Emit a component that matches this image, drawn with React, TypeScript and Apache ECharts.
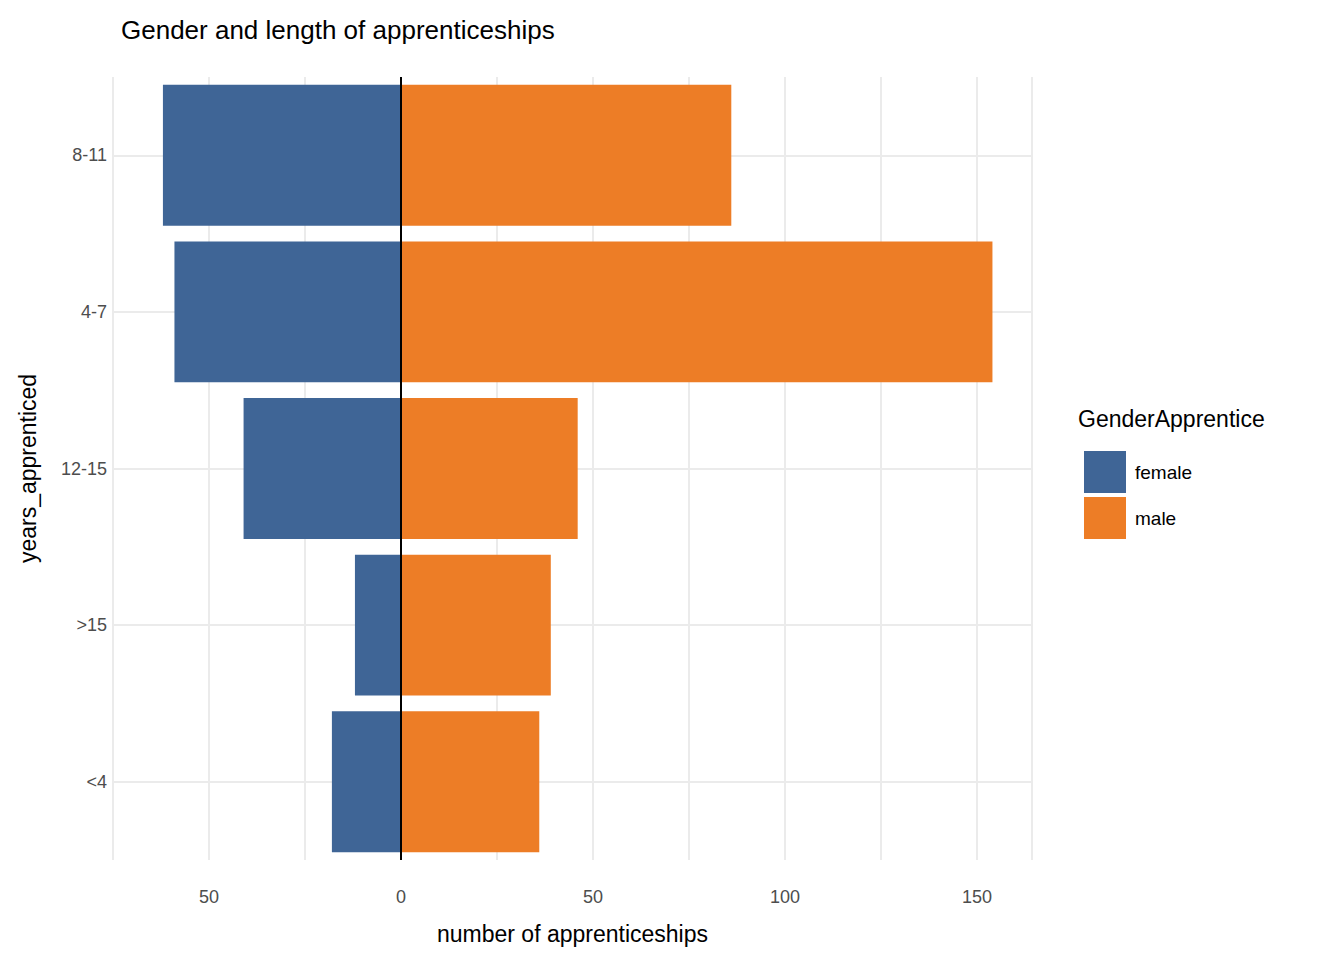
import { useEffect, useRef } from 'react';
import * as echarts from 'echarts';

const categories = ['<4', '>15', '12-15', '4-7', '8-11'];
const female = [18, 12, 41, 59, 62];
const male = [36, 39, 46, 154, 86];
const seriesNames = ['female', 'male'];
const colors = ['#3f6596', '#ed7d26'];

const FONT = 'Liberation Sans, Arial, sans-serif';

export default function App() {
  const chartRef = useRef<HTMLDivElement>(null);

  useEffect(() => {
    if (!chartRef.current) return;
    const chart = echarts.init(chartRef.current, null, { renderer: 'svg' });

    chart.setOption({
      animation: false,
      textStyle: { fontFamily: FONT },
      title: {
        text: 'Gender and length of apprenticeships',
        left: 108,
        top: 4,
        textStyle: { fontSize: 26, fontWeight: 'normal', color: '#000', fontFamily: FONT }
      },
      graphic: [
        {
          type: 'text',
          left: 1070,
          top: 399,
          style: { text: 'GenderApprentice', fontSize: 23, fill: '#000', fontFamily: FONT }
        }
      ],
      legend: {
        data: seriesNames,
        orient: 'vertical',
        left: 1071,
        top: 438,
        itemWidth: 42,
        itemHeight: 42,
        itemGap: 4,
        icon: 'rect',
        textStyle: { fontSize: 19, color: '#000', fontFamily: FONT, padding: [0, 0, 0, 4] }
      },
      grid: { left: 105, width: 919, top: 69, height: 783, containLabel: false },
      xAxis: {
        type: 'value',
        min: -75,
        max: 164.3,
        interval: 25,
        name: 'number of apprenticeships',
        nameLocation: 'middle',
        nameGap: 62,
        nameTextStyle: { fontSize: 23, color: '#000', fontFamily: FONT },
        axisLine: { show: false },
        axisTick: { show: false },
        axisLabel: {
          fontSize: 18,
          color: '#4d4d4d',
          margin: 28,
          formatter: (v: number) => (v % 50 === 0 ? String(Math.abs(v)) : '')
        },
        splitLine: { lineStyle: { color: '#ebebeb', width: 2 } }
      },
      yAxis: {
        type: 'category',
        data: categories,
        name: 'years_apprenticed',
        nameLocation: 'middle',
        nameGap: 74,
        nameTextStyle: { fontSize: 23, color: '#000', fontFamily: FONT },
        axisLine: { show: false },
        axisTick: { show: false },
        axisLabel: { fontSize: 18, color: '#4d4d4d', margin: 6 },
        splitLine: { show: false }
      },
      series: [
        {
          type: 'line',
          data: [],
          z: 0,
          silent: true,
          markLine: {
            z: 0,
            symbol: 'none',
            silent: true,
            label: { show: false },
            lineStyle: { color: '#ebebeb', width: 2, type: 'solid' },
            data: categories.map((c) => ({ yAxis: c }))
          }
        },
        {
          name: 'female',
          type: 'bar',
          stack: 'total',
          barWidth: '90%',
          z: 3,
          itemStyle: { color: colors[0] },
          data: female.map((v) => -v)
        },
        {
          name: 'male',
          type: 'bar',
          stack: 'total',
          barWidth: '90%',
          z: 3,
          itemStyle: { color: colors[1] },
          data: male,
          markLine: {
            z: 10,
            symbol: 'none',
            silent: true,
            label: { show: false },
            lineStyle: { color: '#000', width: 2, type: 'solid' },
            data: [{ xAxis: 0 }]
          }
        }
      ]
    });

    return () => chart.dispose();
  }, []);

  return <div ref={chartRef} style={{ width: 1328, height: 944 }} />;
}
